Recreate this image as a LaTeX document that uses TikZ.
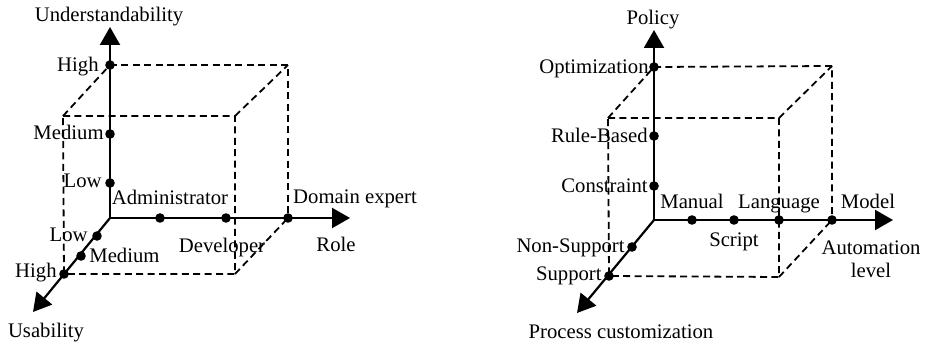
\documentclass[tikz,border=0pt]{standalone}
\usepackage{fontspec}
\setmainfont{Liberation Serif}
\usetikzlibrary{arrows.meta,backgrounds}
\tikzset{
  axis/.style={line width=1.1pt, -{Triangle[length=9pt,width=10pt]}},
  cubeline/.style={line width=0.9pt, dash pattern=on 3.5pt off 2.2pt},
  dot/.style={circle, fill=black, inner sep=0pt, minimum size=4.8pt},
  lbl/.style={inner sep=0pt, font=\fontsize{10.35}{12.4}\selectfont},
}
\begin{document}
\begin{tikzpicture}[x=0.5pt,y=-0.5pt]
\useasboundingbox (0,0) rectangle (925,347);
% ---------------- left diagram ----------------
\coordinate (O1) at (110,218);
\coordinate (uTip) at (110,27);
\coordinate (rTip) at (350,218);
\coordinate (sTip) at (33,312);
\coordinate (lbTR) at (288,65);
\coordinate (lfTL) at (63,116);
\coordinate (lfTR) at (235,116);
\coordinate (lfBR) at (235,274);
\node[dot] (uLow) at (110,183) {};
\node[dot] (uMed) at (110,134) {};
\node[dot] (uHigh) at (110,65) {};
\node[dot] (rAdm) at (160,218) {};
\node[dot] (rDev) at (226,218) {};
\node[dot] (rDom) at (288,218) {};
\node[dot] (sLow) at (97,236) {};
\node[dot] (sMed) at (81,256) {};
\node[dot] (sHigh) at (64,274) {};
\begin{scope}[on background layer]
\draw[cubeline] (uHigh.center) -- (lbTR) -- (rDom.center);
\draw[cubeline] (lfTL) -- (lfTR) -- (lfBR) -- (sHigh.center) -- cycle;
\draw[cubeline] (lfTL) -- (uHigh.center);
\draw[cubeline] (lfTR) -- (lbTR);
\draw[cubeline] (lfBR) -- (rDom.center);
\draw[axis] (O1) -- (uTip);
\draw[axis] (O1) -- (rTip);
\draw[axis] (O1) -- (sTip);
\end{scope}
\node[lbl, anchor=base] (tU) at (109,22) {Understandability};
\node[lbl, anchor=base east] (tUHigh) at (99,72) {High};
\node[lbl, anchor=base east] (tUMed) at (104,140) {Medium};
\node[lbl, anchor=base east] (tULow) at (102,188) {Low};
\node[lbl, anchor=base] (tAdm) at (170,205) {Administrator};
\node[lbl, anchor=base] (tDev) at (222,252) {Developer};
\node[lbl, anchor=base] (tDom) at (355,204) {Domain expert};
\node[lbl, anchor=base] (tRole) at (336,251) {Role};
\node[lbl, anchor=base east] (tSLow) at (88,242) {Low};
\node[lbl, anchor=base west] (tSMed) at (89,263) {Medium};
\node[lbl, anchor=base east] (tSHigh) at (57,277) {High};
\node[lbl, anchor=base] (tUs) at (46,337) {Usability};
% ---------------- right diagram ----------------
\coordinate (O2) at (654,220);
\coordinate (pTip) at (654,30);
\coordinate (aTip) at (893,220);
\coordinate (cTip) at (577,313);
\coordinate (rbTR) at (832,66);
\coordinate (rfTL) at (608,118);
\coordinate (rfTR) at (779,118);
\coordinate (rfBR) at (779,277);
\node[dot] (pCon) at (654,186) {};
\node[dot] (pRule) at (654,136) {};
\node[dot] (pOpt) at (654,67) {};
\node[dot] (aMan) at (692,220) {};
\node[dot] (aScr) at (734,220) {};
\node[dot] (aLan) at (779,220) {};
\node[dot] (aMod) at (832,220) {};
\node[dot] (cNon) at (632,247) {};
\node[dot] (cSup) at (609,276) {};
\begin{scope}[on background layer]
\draw[cubeline] (pOpt.center) -- (rbTR) -- (aMod.center);
\draw[cubeline] (rfTL) -- (rfTR) -- (rfBR) -- (cSup.center) -- cycle;
\draw[cubeline] (rfTL) -- (pOpt.center);
\draw[cubeline] (rfTR) -- (rbTR);
\draw[cubeline] (rfBR) -- (aMod.center);
\draw[axis] (O2) -- (pTip);
\draw[axis] (O2) -- (aTip);
\draw[axis] (O2) -- (cTip);
\end{scope}
\node[lbl, anchor=base] (tPol) at (653,25) {Policy};
\node[lbl, anchor=base east] (tOpt) at (649,74) {Optimization};
\node[lbl, anchor=base east] (tRule) at (648,143) {Rule-Based};
\node[lbl, anchor=base east] (tCon) at (648,193) {Constraint};
\node[lbl, anchor=base] (tMan) at (692,208) {Manual};
\node[lbl, anchor=base] (tLan) at (779,208) {Language};
\node[lbl, anchor=base] (tMod) at (868,208) {Model};
\node[lbl, anchor=base] (tScr) at (734,247) {Script};
\node[lbl, anchor=base] (tAut) at (871,255) {Automation};
\node[lbl, anchor=base] (tLev) at (871,277) {level};
\node[lbl, anchor=base east] (tNon) at (625,252) {Non-Support};
\node[lbl, anchor=base east] (tSup) at (602,280) {Support};
\node[lbl, anchor=base] (tPro) at (621,338) {Process customization};
\end{tikzpicture}
\end{document}
